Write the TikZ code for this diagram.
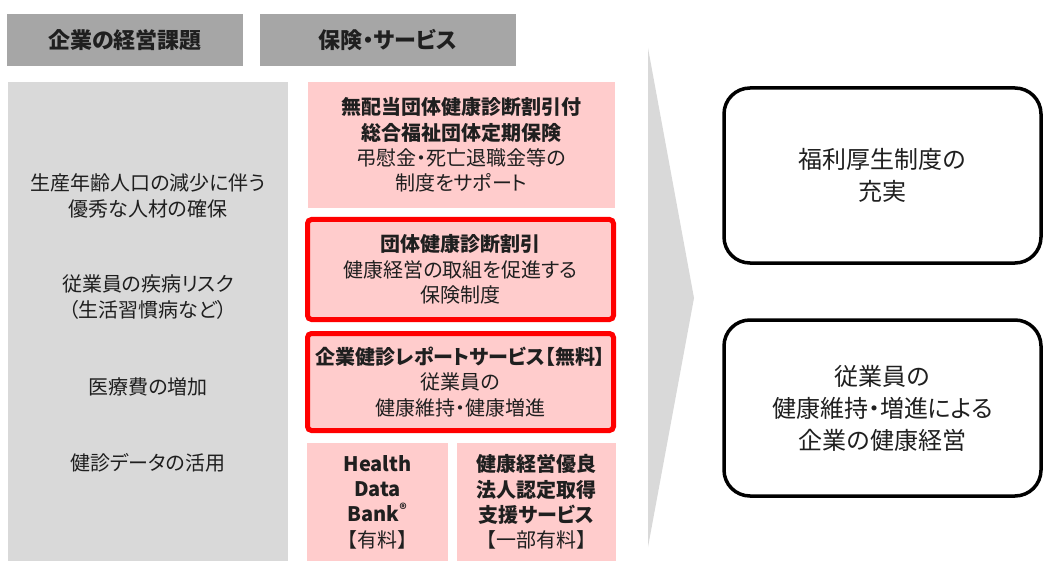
\documentclass[tikz,border=0pt]{standalone}
\usepackage{fontspec}
\setmainfont{Noto Sans CJK JP}[RawFeature=+palt]
\definecolor{hdrgrey}{HTML}{A6A6A6}
\definecolor{panelgrey}{HTML}{D9D9D9}
\definecolor{pinkfill}{HTML}{FFCCCC}
\definecolor{redline}{HTML}{FF0000}
\definecolor{txt}{HTML}{1F1F1F}
\tikzset{
  hdr/.style={fill=hdrgrey, inner sep=0pt, outer sep=0pt, text=txt,
    font=\fontsize{22}{25}\selectfont\bfseries},
  body/.style={align=center, text=txt, inner sep=0pt, font=\fontsize{20}{25.3}\selectfont},
  pinkbox/.style={fill=pinkfill, inner sep=0pt, outer sep=0pt, align=center, text=txt,
    font=\fontsize{20}{25.3}\selectfont},
  redbox/.style={pinkbox, draw=redline, line width=5pt, rounded corners=4pt},
  goalbox/.style={draw=black, line width=3.5pt, rounded corners=26pt, fill=white,
    inner sep=0pt, align=center, text=txt, font=\fontsize{24}{32}\selectfont}
}
\begin{document}
\begin{tikzpicture}[x=1pt,y=-1pt]
\useasboundingbox (0,0) rectangle (1043,561);
% headers
\node[hdr, minimum width=236pt, minimum height=52pt] (h1) at (125,40) {企業の経営課題};
\node[hdr, minimum width=256pt, minimum height=52pt] (h2) at (388,40) {保険・サービス};
% left panel
\node[fill=panelgrey, inner sep=0pt, outer sep=0pt, minimum width=280pt, minimum height=479pt] (panel) at (148,321.5) {};
\node[body] (t1) at (148,196) {生産年齢人口の減少に伴う\\優秀な人材の確保};
\node[body] (t2) at (148,297) {従業員の疾病リスク\\（生活習慣病など）};
\node[body] (t3) at (148,387) {医療費の増加};
\node[body] (t4) at (148,463) {健診データの活用};
% service boxes
\node[pinkbox, minimum width=307pt, minimum height=126pt] (b1) at (461.5,145)
  {\textbf{無配当団体健康診断割引付}\\\textbf{総合福祉団体定期保険}\\弔慰金・死亡退職金等の\\制度をサポート};
\node[redbox, minimum width=306pt, minimum height=100pt] (b2) at (460.5,269.5)
  {\textbf{団体健康診断割引}\\健康経営の取組を促進する\\保険制度};
\node[redbox, minimum width=306pt, minimum height=97pt] (b3) at (460.5,382)
  {\textbf{企業健診レポートサービス【無料】}\\従業員の\\健康維持・健康増進};
\node[pinkbox, minimum width=141pt, minimum height=118pt, font=\fontsize{20}{25.3}\selectfont\bfseries] (b4) at (377.5,502)
  {Health\\Data\\Bank\textsuperscript{®}\\{\mdseries【有料】}};
\node[pinkbox, minimum width=159pt, minimum height=118pt, font=\fontsize{20}{25.3}\selectfont\bfseries] (b5) at (536.5,502)
  {健康経営優良\\法人認定取得\\支援サービス\\{\mdseries【一部有料】}};
% arrow
\coordinate (atop) at (648,48);
\coordinate (atip) at (694,298);
\coordinate (abot) at (648,547);
\fill[panelgrey] (atop) -- (atip) -- (abot) -- cycle;
% goals
\node[goalbox, minimum width=317pt, minimum height=175pt] (g1) at (882.5,175.5)
  {福利厚生制度の\\充実};
\node[goalbox, minimum width=317pt, minimum height=176pt] (g2) at (882.5,408)
  {従業員の\\健康維持・増進による\\企業の健康経営};
\end{tikzpicture}
\end{document}
